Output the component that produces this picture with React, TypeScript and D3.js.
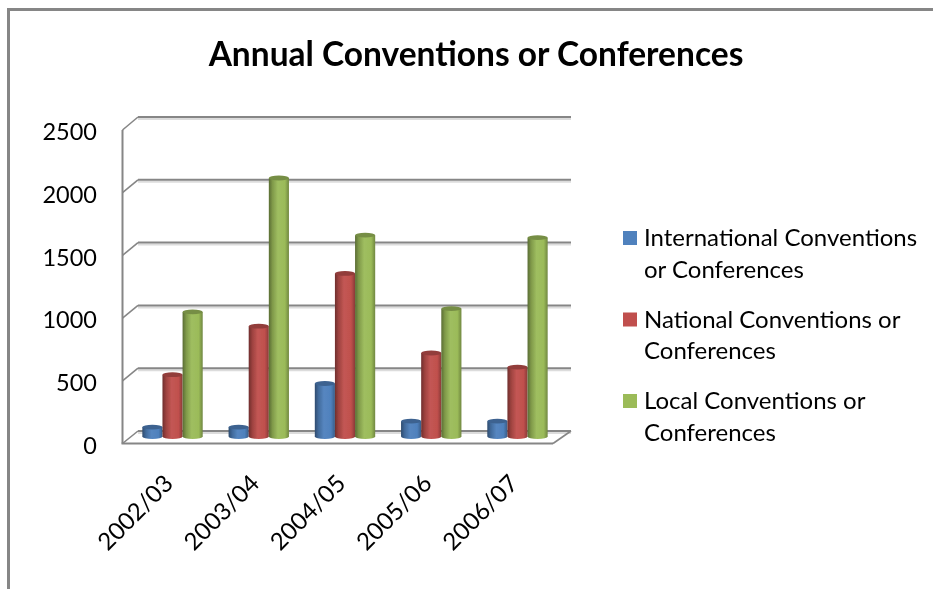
import React from "react";
import * as d3 from "d3";

const categories = ["2002/03", "2003/04", "2004/05", "2005/06", "2006/07"];
const international = [75, 75, 422, 122, 122];
const national = [492, 878, 1298, 665, 552];
const local = [992, 2058, 1603, 1018, 1583];
const ticks = [0, 500, 1000, 1500, 2000, 2500];
const seriesNames = ["international", "national", "local"];
const seriesValues = [international, national, local];
const baseColors = ["#4F81BD", "#C0504D", "#9BBB59"];
const legendLines = [
  ["International Conventions", "or Conferences"],
  ["National Conventions or", "Conferences"],
  ["Local Conventions or", "Conferences"],
];

const FONT = "Lato, 'Open Sans', sans-serif";
const GRID = "#868686";

const yBack = d3.scaleLinear().domain([0, 2500]).range([431, 117]);
const yFront = d3.scaleLinear().domain([0, 2500]).range([443.5, 130]);
const yBar = d3.scaleLinear().domain([0, 2500]).range([436.5, 122.5]);
const x0 = d3.scaleBand().domain(categories).range([129.4, 560.6]).paddingInner(0.3).paddingOuter(0.15);
const x1 = d3.scaleBand().domain(seriesNames).range([0, x0.bandwidth()]);

function shade(c: string, k: number) {
  return k >= 0 ? d3.interpolateRgb(c, "#fff")(k) : d3.interpolateRgb(c, "#000")(-k);
}

export default function App() {
  const bw = x1.bandwidth();
  const rx = bw / 2;
  const ry = 2.4;
  return (
    <svg width={933} height={589} style={{ position: "absolute", left: 0, top: 0, background: "#fff" }}>
      <defs>
        {baseColors.map((c, i) => (
          <linearGradient key={i} id={`cyl${i}`} x1="0" x2="1" y1="0" y2="0">
            <stop offset="0" stopColor={shade(c, -0.42)} />
            <stop offset="0.18" stopColor={shade(c, -0.18)} />
            <stop offset="0.45" stopColor={shade(c, 0.04)} />
            <stop offset="0.8" stopColor={c} />
            <stop offset="1" stopColor={shade(c, -0.28)} />
          </linearGradient>
        ))}
        <filter id="soft" x="-5%" y="-5%" width="110%" height="110%">
          <feGaussianBlur stdDeviation="0.45" />
        </filter>
        <filter id="softText" x="-5%" y="-5%" width="110%" height="110%">
          <feGaussianBlur stdDeviation="0.3" />
        </filter>
      </defs>

      <path d="M8.5,589V9.5H933" fill="none" stroke={GRID} strokeWidth={3} />

      <g filter="url(#soft)">
        {ticks.map((t) => (
          <g key={t}>
            <line x1={138} x2={571} y1={yBack(t) + 2} y2={yBack(t) + 2} stroke="#dcdcdc" strokeWidth={2} />
            <line x1={138} x2={571} y1={yBack(t)} y2={yBack(t)} stroke={GRID} strokeWidth={2} />
            <line x1={122.5} x2={138} y1={yFront(t)} y2={yBack(t)} stroke={GRID} strokeWidth={1.6} />
          </g>
        ))}
        <line x1={122.5} x2={122.5} y1={yFront(2500)} y2={yFront(0)} stroke={GRID} strokeWidth={2} />
        <line x1={121.5} x2={553} y1={yFront(0)} y2={yFront(0)} stroke={GRID} strokeWidth={2.2} />
        <line x1={553} x2={571} y1={yFront(0)} y2={yBack(0)} stroke={GRID} strokeWidth={1.6} />

        {categories.map((cat, ci) =>
          seriesNames.map((s, si) => {
            const v = seriesValues[si][ci];
            const x = (x0(cat) as number) + (x1(s) as number);
            const top = yBar(v);
            const base = yBar(0);
            const c = baseColors[si];
            return (
              <g key={cat + s}>
                <path
                  d={`M${x},${top}V${base}A${rx},${ry} 0 0 0 ${x + bw},${base}V${top}Z`}
                  fill={`url(#cyl${si})`}
                />
                <ellipse cx={x + rx} cy={top} rx={rx} ry={ry} fill={shade(c, -0.24)} />
              </g>
            );
          })
        )}
      </g>

      <g filter="url(#softText)">
        <text x={476} y={66} textAnchor="middle" fontFamily={FONT} fontSize={33.5} fontWeight={700} fill="#000">
          Annual Conventions or Conferences
        </text>

        {ticks.map((t) => (
          <text key={t} x={97} y={yBack(t) + 23} textAnchor="end" fontFamily={FONT} fontSize={23.5} fill="#000">
            {t}
          </text>
        ))}

        {categories.map((cat) => {
          const cx = (x0(cat) as number) + x0.bandwidth() / 2;
          return (
            <text
              key={cat}
              transform={`translate(${cx + 2},${485}) rotate(-45)`}
              textAnchor="end"
              fontFamily={FONT}
              fontSize={24}
              fill="#000"
            >
              {cat}
            </text>
          );
        })}

        {legendLines.map((lines, i) => {
          const y = 231 + i * 81.5;
          return (
            <g key={i}>
              <rect x={623} y={y} width={14} height={14} fill={baseColors[i]} />
              {lines.map((l, j) => (
                <text key={j} x={644} y={y + 15 + j * 31.5} fontFamily={FONT} fontSize={24} fill="#000">
                  {l}
                </text>
              ))}
            </g>
          );
        })}
      </g>
    </svg>
  );
}
